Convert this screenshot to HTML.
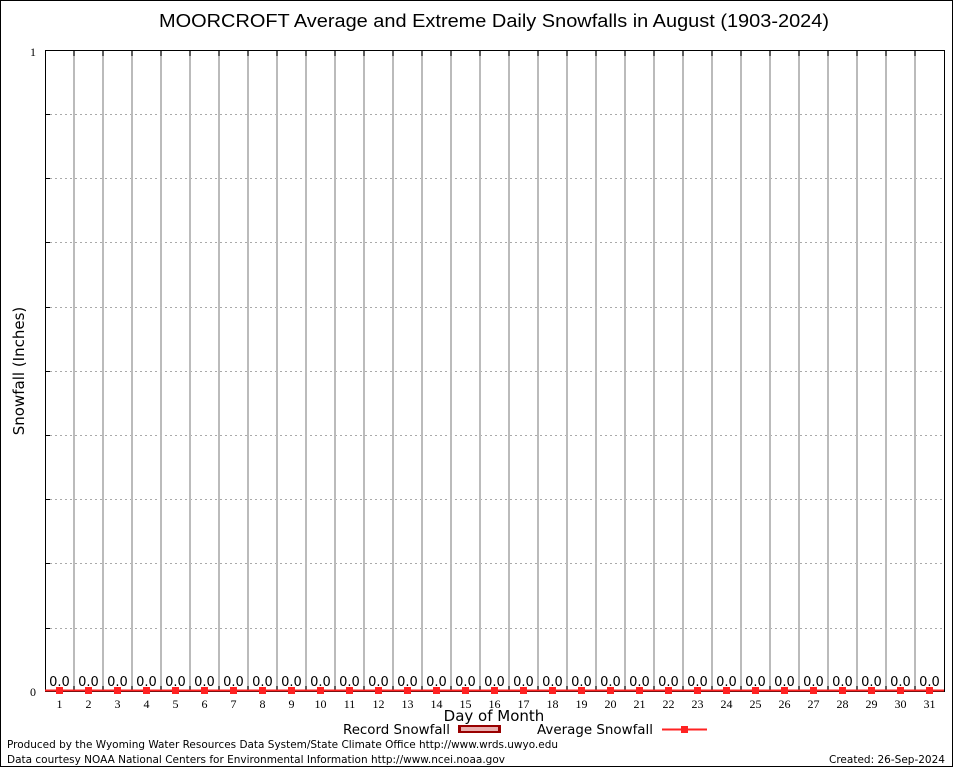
<!DOCTYPE html>
<html><head><style>body{margin:0;background:#fff}svg{display:block}</style></head>
<body>
<svg width="954" height="768" xmlns="http://www.w3.org/2000/svg" font-family="DejaVu Sans, sans-serif">
<rect x="0.5" y="0.5" width="952" height="766" fill="#fff" stroke="#000"/>
<text x="494" y="27" font-family="Liberation Sans, sans-serif" font-size="18" text-anchor="middle" textLength="670" lengthAdjust="spacingAndGlyphs">MOORCROFT Average and Extreme Daily Snowfalls in August (1903-2024)</text>
<g stroke="#aaa" stroke-dasharray="2,3" stroke-width="1">
<line x1="45" x2="944" y1="114.5" y2="114.5"/><line x1="45" x2="944" y1="178.5" y2="178.5"/><line x1="45" x2="944" y1="242.5" y2="242.5"/><line x1="45" x2="944" y1="307.5" y2="307.5"/><line x1="45" x2="944" y1="371.5" y2="371.5"/><line x1="45" x2="944" y1="435.5" y2="435.5"/><line x1="45" x2="944" y1="499.5" y2="499.5"/><line x1="45" x2="944" y1="563.5" y2="563.5"/><line x1="45" x2="944" y1="628.5" y2="628.5"/>
</g>
<g stroke="#000"><line x1="45" x2="50" y1="114.5" y2="114.5"/><line x1="45" x2="50" y1="178.5" y2="178.5"/><line x1="45" x2="50" y1="242.5" y2="242.5"/><line x1="45" x2="50" y1="307.5" y2="307.5"/><line x1="45" x2="50" y1="371.5" y2="371.5"/><line x1="45" x2="50" y1="435.5" y2="435.5"/><line x1="45" x2="50" y1="499.5" y2="499.5"/><line x1="45" x2="50" y1="563.5" y2="563.5"/><line x1="45" x2="50" y1="628.5" y2="628.5"/></g>
<g id="v"></g>
<rect x="45.5" y="50.5" width="899" height="641" fill="none" stroke="#000"/>
<line x1="45" x2="944" y1="690.5" y2="690.5" stroke="#f22" stroke-width="2"/>
<g id="m"></g>
<text x="36" y="56" font-family="Liberation Serif, serif" font-size="12" text-anchor="end">1</text>
<text x="36" y="696" font-family="Liberation Serif, serif" font-size="12" text-anchor="end">0</text>
<text transform="translate(24,371) rotate(-90)" font-size="15" text-anchor="middle">Snowfall (Inches)</text>
<g font-size="13" text-anchor="middle">
<text x="59.5" y="686">0.0</text><text x="88.5" y="686">0.0</text><text x="117.5" y="686">0.0</text><text x="146.5" y="686">0.0</text><text x="175.5" y="686">0.0</text><text x="204.5" y="686">0.0</text><text x="233.5" y="686">0.0</text><text x="262.5" y="686">0.0</text><text x="291.5" y="686">0.0</text><text x="320.5" y="686">0.0</text><text x="349.5" y="686">0.0</text><text x="378.5" y="686">0.0</text><text x="407.5" y="686">0.0</text><text x="436.5" y="686">0.0</text><text x="465.5" y="686">0.0</text><text x="494.5" y="686">0.0</text><text x="523.5" y="686">0.0</text><text x="552.5" y="686">0.0</text><text x="581.5" y="686">0.0</text><text x="610.5" y="686">0.0</text><text x="639.5" y="686">0.0</text><text x="668.5" y="686">0.0</text><text x="697.5" y="686">0.0</text><text x="726.5" y="686">0.0</text><text x="755.5" y="686">0.0</text><text x="784.5" y="686">0.0</text><text x="813.5" y="686">0.0</text><text x="842.5" y="686">0.0</text><text x="871.5" y="686">0.0</text><text x="900.5" y="686">0.0</text><text x="929.5" y="686">0.0</text>
</g>
<g font-size="12" text-anchor="middle" font-family="Liberation Serif, serif">
<text x="59.5" y="708">1</text><text x="88.5" y="708">2</text><text x="117.5" y="708">3</text><text x="146.5" y="708">4</text><text x="175.5" y="708">5</text><text x="204.5" y="708">6</text><text x="233.5" y="708">7</text><text x="262.5" y="708">8</text><text x="291.5" y="708">9</text><text x="320.5" y="708">10</text><text x="349.5" y="708">11</text><text x="378.5" y="708">12</text><text x="407.5" y="708">13</text><text x="436.5" y="708">14</text><text x="465.5" y="708">15</text><text x="494.5" y="708">16</text><text x="523.5" y="708">17</text><text x="552.5" y="708">18</text><text x="581.5" y="708">19</text><text x="610.5" y="708">20</text><text x="639.5" y="708">21</text><text x="668.5" y="708">22</text><text x="697.5" y="708">23</text><text x="726.5" y="708">24</text><text x="755.5" y="708">25</text><text x="784.5" y="708">26</text><text x="813.5" y="708">27</text><text x="842.5" y="708">28</text><text x="871.5" y="708">29</text><text x="900.5" y="708">30</text><text x="929.5" y="708">31</text>
</g>
<text x="494" y="721" font-size="15" text-anchor="middle">Day of Month</text>
<text x="343" y="734" font-size="13" textLength="107" lengthAdjust="spacingAndGlyphs">Record Snowfall</text>
<rect x="458" y="725" width="43" height="8" fill="#900"/>
<rect x="461" y="727" width="37" height="4" fill="#e9b0b0"/>
<text x="537" y="734" font-size="13" textLength="116" lengthAdjust="spacingAndGlyphs">Average Snowfall</text>
<line x1="662" x2="707" y1="729.5" y2="729.5" stroke="#f22" stroke-width="2"/>
<rect x="681" y="726" width="7" height="7" fill="#f22"/>
<text x="7" y="748" font-size="11" textLength="551" lengthAdjust="spacingAndGlyphs">Produced by the Wyoming Water Resources Data System/State Climate Office http://www.wrds.uwyo.edu</text>
<text x="7" y="763" font-size="11" textLength="498" lengthAdjust="spacingAndGlyphs">Data courtesy NOAA National Centers for Environmental Information http://www.ncei.noaa.gov</text>
<text x="829" y="763" font-size="11" textLength="116" lengthAdjust="spacingAndGlyphs">Created: 26-Sep-2024</text>
<script>
var ns="http://www.w3.org/2000/svg",v=document.getElementById("v"),m=document.getElementById("m");
for(var k=1;k<=30;k++){var x=45+29*k;
var l=document.createElementNS(ns,"line");l.setAttribute("x1",x);l.setAttribute("x2",x);l.setAttribute("y1",50);l.setAttribute("y2",691);l.setAttribute("stroke","#bbb");l.setAttribute("stroke-width","2");v.appendChild(l);
["50,56","686,691"].forEach(function(p){var a=p.split(",");var t=document.createElementNS(ns,"line");t.setAttribute("x1",x);t.setAttribute("x2",x);t.setAttribute("y1",a[0]);t.setAttribute("y2",a[1]);t.setAttribute("stroke","#000");v.appendChild(t);});}
for(var d=0;d<31;d++){var c=document.createElementNS(ns,"rect");c.setAttribute("x",56+29*d);c.setAttribute("y",687);c.setAttribute("width",7);c.setAttribute("height",7);c.setAttribute("fill","#f22");m.appendChild(c);}
</script>
</svg>
</body></html>
